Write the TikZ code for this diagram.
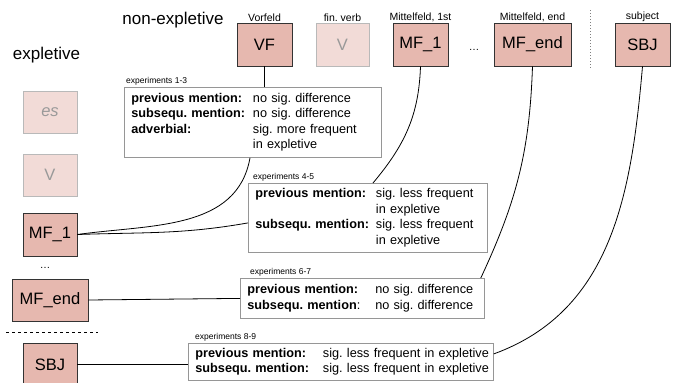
\documentclass[tikz,border=0pt]{standalone}
\usepackage{fontspec}
\setmainfont{Liberation Sans}
\usepackage{xcolor}
\usetikzlibrary{positioning}
\frenchspacing
\definecolor{slotred}{RGB}{230,184,175}
\definecolor{slotline}{RGB}{51,51,51}
\definecolor{expline}{RGB}{150,150,150}

\begin{document}
\begin{tikzpicture}[x=1pt, y=-1pt,
    slot/.style={draw=slotline, line width=0.9pt, fill=slotred, minimum width=55pt, minimum height=43pt, inner sep=0pt, font=\fontsize{16.5}{18}\selectfont},
    faded/.style={slot, draw=gray!55, fill=slotred!50, text=gray!80},
    slotlabel/.style={font=\fontsize{10.5}{12}\selectfont, inner sep=1pt},
    expbox/.style={draw=expline, line width=0.8pt, fill=white, anchor=north west, align=left, inner xsep=7pt, inner ysep=0pt, font=\fontsize{12.7}{15.5}\selectfont},
    explabel/.style={font=\fontsize{8.5}{10}\selectfont, inner sep=1pt, anchor=south west},
    heading/.style={font=\fontsize{17}{20}\selectfont},
    link/.style={line width=0.8pt}]
    \useasboundingbox (0,0) rectangle (681,383);

    % headings
    \node[heading] (nonexpl) at (173,20) {non-expletive};
    \node[heading] (expl) at (46.5,55) {expletive};

    % non-expletive order
    \node[slot] (vf) at (264.5,44.5) {VF};
    \node[faded, minimum width=53pt] (finv) at (342.5,44.5) {V};
    \node[slot] (mfa) at (420.5,44.5) {MF\_1};
    \node[slot, minimum width=77pt] (mfe) at (532.5,44.5) {MF\_end};
    \node[slot] (sbj) at (642.5,44.5) {SBJ};
    \node[slotlabel, above=0pt of vf] (vflab) {Vorfeld};
    \node[slotlabel, above=0pt of finv] (finvlab) {fin. verb};
    \node[slotlabel, above=0pt of mfa] (mfalab) {Mittelfeld, 1st};
    \node[slotlabel, above=0pt of mfe] (mfelab) {Mittelfeld, end};
    \node[slotlabel, above=0pt of sbj] (sbjlab) {subject};
    \node[slotlabel] (dotstop) at (474,50) {\ldots};
    \draw[dotted, gray, line width=1pt] (590,10) -- (590,68);

    % expletive order
    \node[faded, minimum width=54pt, minimum height=42pt, font=\fontsize{16.5}{18}\selectfont\itshape] (es) at (50,112) {es};
    \node[faded, minimum width=54pt, minimum height=42pt] (finvl) at (50,175) {V};
    \node[slot, minimum width=54pt] (mfal) at (50,234.5) {MF\_1};
    \node[slotlabel] (dotsleft) at (45,268) {\ldots};
    \node[slot, minimum width=76pt, minimum height=42pt] (mfel) at (50,300) {MF\_end};
    \draw[dashed, line width=0.8pt] (6,332) -- (98,332);
    \node[slot, minimum width=54pt] (sbjl) at (50,364.5) {SBJ};

    % experiments
    \node[expbox, text width=243pt, minimum height=70pt] (exA) at (124,87) {\begin{tabular}{@{}l@{\hspace{8pt}}l@{}}
        \textbf{previous mention:} & no sig. difference\\
        \textbf{subsequ. mention:} & no sig. difference\\
        \textbf{adverbial:} & sig. more frequent\\
        & in expletive
    \end{tabular}};
    \node[expbox, text width=225pt, minimum height=69pt] (exB) at (248,183) {\begin{tabular}{@{}l@{\hspace{7pt}}l@{}}
        \textbf{previous mention:} & sig. less frequent\\
        & in expletive\\
        \textbf{subsequ. mention:} & sig. less frequent\\
        & in expletive
    \end{tabular}};
    \node[expbox, text width=230pt, minimum height=40pt] (exC) at (240,278) {\begin{tabular}{@{}l@{\hspace{15pt}}l@{}}
        \textbf{previous mention:} & no sig. difference\\
        \textbf{subsequ. mention}: & no sig. difference
    \end{tabular}};
    \node[expbox, text width=291pt, minimum height=37pt] (exD) at (188,343) {\begin{tabular}{@{}l@{\hspace{14pt}}l@{}}
        \textbf{previous mention:} & sig. less frequent in expletive\\
        \textbf{subsequ. mention:} & sig. less frequent in expletive
    \end{tabular}};
    \node[explabel, xshift=1pt, yshift=1pt] (exAlab) at (exA.north west) {experiments 1-3};
    \node[explabel, xshift=4pt, yshift=1pt] (exBlab) at (exB.north west) {experiments 4-5};
    \node[explabel, xshift=9pt, yshift=1pt] (exClab) at (exC.north west) {experiments 6-7};
    \node[explabel, xshift=6pt, yshift=1pt] (exDlab) at (exD.north west) {experiments 8-9};

    % attachment points
    \coordinate (exAbot) at ([xshift=126pt]exA.south west);
    \coordinate (exBtop) at ([xshift=125pt]exB.north west);
    \coordinate (exBleft) at ([yshift=-5pt]exB.west);
    \coordinate (exCtop) at ([xshift=-4pt]exC.north east);
    \coordinate (exDright) at ([yshift=8pt]exD.east);

    % connectors
    \draw[link] (vf) -- (vf |- exA.north);
    \draw[link] (mfal.east) to[out=8, in=-100] (exAbot);
    \draw[link] (mfal.east) to[out=2, in=190] (exBleft);
    \draw[link] (mfa.south) to[out=-92, in=50] (exBtop);
    \draw[link] (mfe.south) to[out=-92, in=65] (exCtop);
    \draw[link] (sbj.south) to[out=-95, in=20] (exDright);
    \draw[link] (mfel.east) -- (exC.west);
    \draw[link] (sbjl.east) -- (sbjl.east -| exD.west);
\end{tikzpicture}
\end{document}
